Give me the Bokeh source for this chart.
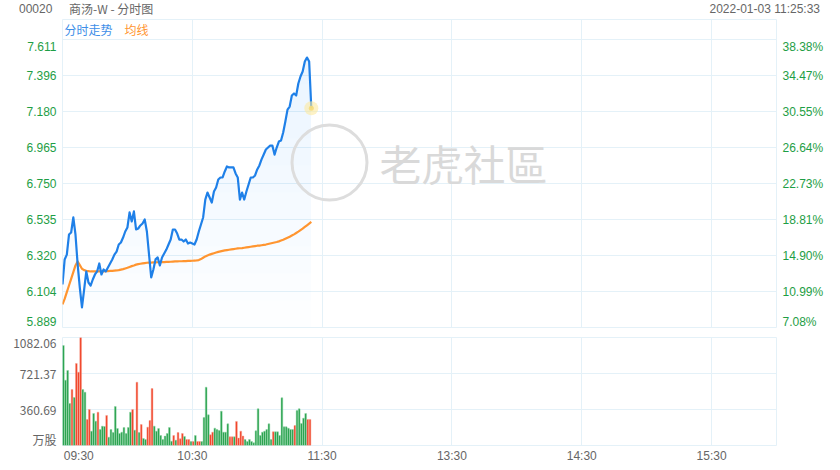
import numpy as np
from bokeh.plotting import figure
from bokeh.models import Range1d, LinearAxis, FixedTicker, Label, ColumnDataSource, Div
from bokeh.layouts import column
from bokeh.embed import file_html
from bokeh.resources import INLINE

# ---------------- data ----------------
stock_code = "00020"
stock_title = "商汤-W - 分时图"
timestamp = "2022-01-03 11:25:33"
legend_price = "分时走势"
legend_avg = "均线"
watermark = "老虎社區"

prev_close = 5.50
price_min, price_max = 5.889, 7.611
price_tick_labels = ["5.889", "6.104", "6.320", "6.535", "6.750", "6.965", "7.180", "7.396", "7.611"]
pct_tick_labels = ["7.08%", "10.99%", "14.90%", "18.81%", "22.73%", "26.64%", "30.55%", "34.47%", "38.38%"]

vol_max = 1082.06
vol_ticks = [0, 360.69, 721.37, 1082.06]
vol_tick_labels = ["万股", "360.69", "721.37", "1082.06"]

session_minutes = 330  # 09:30-12:00 + 13:00-16:00
time_labels = ["09:30", "10:30", "11:30", "13:30", "14:30", "15:30"]
time_label_pos = [7.5, 60, 120, 180, 240, 300]
time_grid = [0, 60, 120, 180, 240, 300, 330]

price = [
    6.146, 6.296, 6.325, 6.445, 6.457, 6.547, 6.445, 6.266, 6.128, 6.009,
    6.116, 6.224, 6.158, 6.140, 6.176, 6.206, 6.224, 6.272, 6.206, 6.236,
    6.224, 6.248, 6.272, 6.296, 6.325, 6.343, 6.385, 6.397, 6.427, 6.463,
    6.487, 6.577, 6.523, 6.583, 6.475, 6.481, 6.499, 6.511, 6.535, 6.463,
    6.325, 6.188, 6.236, 6.296, 6.308, 6.260, 6.308, 6.331, 6.355, 6.385,
    6.415, 6.475, 6.475, 6.451, 6.415, 6.415, 6.403, 6.415, 6.391, 6.397,
    6.391, 6.385, 6.415, 6.463, 6.505, 6.547, 6.654, 6.696, 6.666, 6.636,
    6.702, 6.726, 6.774, 6.786, 6.786, 6.822, 6.852, 6.846, 6.846, 6.846,
    6.810, 6.786, 6.654, 6.696, 6.654, 6.702, 6.744, 6.786, 6.786, 6.798,
    6.834, 6.858, 6.894, 6.923, 6.953, 6.965, 6.977, 6.977, 6.923, 6.965,
    7.001, 7.007, 7.055, 7.121, 7.192, 7.210, 7.276, 7.288, 7.276, 7.348,
    7.390, 7.420, 7.479, 7.503, 7.479, 7.200,
]

avg_price = [
    6.027, 6.060, 6.100, 6.140, 6.180, 6.220, 6.260, 6.284, 6.262, 6.240,
    6.232, 6.228, 6.226, 6.224, 6.224, 6.224, 6.224, 6.224, 6.224, 6.225,
    6.226, 6.226, 6.227, 6.228, 6.229, 6.230, 6.232, 6.235, 6.238, 6.242,
    6.246, 6.251, 6.256, 6.260, 6.265, 6.268, 6.270, 6.272, 6.274, 6.276,
    6.277, 6.277, 6.278, 6.278, 6.279, 6.279, 6.280, 6.280, 6.281, 6.281,
    6.282, 6.283, 6.284, 6.284, 6.285, 6.285, 6.286, 6.286, 6.287, 6.287,
    6.288, 6.289, 6.290, 6.292, 6.298, 6.306, 6.314, 6.320, 6.325, 6.329,
    6.333, 6.337, 6.341, 6.344, 6.347, 6.350, 6.352, 6.354, 6.356, 6.358,
    6.360, 6.362, 6.363, 6.364, 6.366, 6.368, 6.370, 6.372, 6.374, 6.376,
    6.378, 6.379, 6.381, 6.383, 6.385, 6.388, 6.391, 6.394, 6.397, 6.400,
    6.404, 6.409, 6.414, 6.420, 6.426, 6.432, 6.439, 6.446, 6.454, 6.462,
    6.471, 6.480, 6.490, 6.500, 6.510, 6.520,
]

volume = [
    1002, 654, 751, 421, 561, 481, 822, 735, 1082, 561,
    534, 260, 361, 143, 321, 244, 334, 160, 194, 190,
    301, 83, 160, 130, 391, 170, 120, 134, 180, 120,
    180, 334, 361, 154, 634, 130, 210, 70, 60, 184,
    250, 571, 194, 144, 170, 100, 60, 94, 120, 180,
    43, 100, 53, 130, 67, 120, 90, 60, 60, 40,
    40, 100, 40, 40, 40, 281, 584, 307, 107, 134,
    174, 160, 150, 344, 134, 134, 217, 87, 87, 87,
    241, 74, 144, 94, 60, 40, 60, 40, 27, 147,
    368, 100, 134, 144, 160, 217, 60, 137, 137, 137,
    100, 478, 187, 187, 174, 160, 160, 200, 351, 368,
    220, 274, 321, 261, 261,
]
# 1 = red bar, 0 = green bar
vol_up = [
    0, 0, 0, 0, 1, 0, 1, 1, 1, 0,
    0, 1, 1, 0, 0, 0, 1, 0, 0, 0,
    1, 0, 0, 0, 0, 0, 0, 0, 0, 0,
    0, 0, 1, 0, 1, 0, 1, 0, 0, 1,
    1, 1, 0, 0, 0, 0, 0, 0, 0, 0,
    0, 1, 0, 1, 1, 1, 0, 1, 1, 0,
    1, 0, 1, 1, 0, 0, 0, 0, 1, 1,
    0, 0, 0, 0, 0, 0, 0, 1, 1, 0,
    1, 1, 1, 1, 0, 0, 0, 0, 0, 0,
    0, 0, 0, 0, 0, 0, 0, 1, 0, 0,
    0, 0, 0, 0, 0, 0, 0, 1, 0, 0,
    0, 0, 0, 1, 1,
]

# ---------------- styles / layout ----------------
W = 832
LEFT, RIGHT = 62, 56
FRAME_W = W - LEFT - RIGHT          # 714 px
PRICE_PX = 288                      # px from price_min to price_max
HEAD_PX = 20                        # extra frame space above price_max (legend row)
VOL_PX = 108
GRID = "#e4f1f8"
GREEN_TXT = "#1e9e45"
GRAY_TXT = "#666666"
BLUE = "#1f80e8"
ORANGE = "#ff9530"
RED_BAR = "#f03a1e"
GREEN_BAR = "#1e9c44"
FONT = "Liberation Sans"
CJK = "Noto Sans CJK SC"

dp = (price_max - price_min) / PRICE_PX
dv = vol_max / VOL_PX
x_range = Range1d(0, session_minutes)
price_ticks = list(np.linspace(price_min, price_max, len(price_tick_labels)))
# label anchor positions: end labels pulled inside, as in the original
price_label_pos = list(price_ticks)
price_label_pos[0] = price_min + 6 * dp
price_label_pos[-1] = price_max - 7 * dp
vol_label_pos = list(vol_ticks)
vol_label_pos[0] = 6 * dv
vol_label_pos[-1] = vol_max - 5 * dv


def style_axis(ax, color, standoff, font=FONT):
    ax.axis_line_color = None
    ax.major_tick_line_color = None
    ax.minor_tick_line_color = None
    ax.major_tick_out = 0
    ax.major_tick_in = 0
    ax.minor_tick_out = 0
    ax.minor_tick_in = 0
    ax.major_label_text_color = color
    ax.major_label_text_font = font
    ax.major_label_text_font_size = "12px"
    ax.major_label_standoff = standoff


# ---------------- header ----------------
header_html = (
    f'<div style="position:relative;width:{W}px;height:19px;font-size:12px;'
    f'color:{GRAY_TXT};font-family:\'{CJK}\';line-height:14px;white-space:nowrap;">'
    f'<span style="position:absolute;left:19px;top:2px;font-family:\'{FONT}\';">{stock_code}</span>'
    f'<span style="position:absolute;left:69px;top:2px;">{stock_title}</span>'
    f'<span style="position:absolute;right:12px;top:2px;font-family:\'{FONT}\';">{timestamp}</span>'
    f'</div>'
)
h = Div(text=header_html, width=W, height=19, margin=0)

# ---------------- price figure ----------------
p = figure(width=W, height=PRICE_PX + HEAD_PX + 3, x_range=x_range,
           y_range=Range1d(price_min, price_max + HEAD_PX * dp),
           output_backend="svg", toolbar_location=None,
           x_axis_location=None, y_axis_location="left",
           min_border_left=LEFT, min_border_right=RIGHT, min_border_top=0, min_border_bottom=3)
p.background_fill_color = "white"
p.border_fill_color = "white"
p.outline_line_color = GRID
p.xgrid.ticker = FixedTicker(ticks=time_grid)
p.ygrid.ticker = FixedTicker(ticks=price_ticks)
p.xgrid.grid_line_color = GRID
p.ygrid.grid_line_color = GRID

ax_l = p.yaxis[0]
ax_l.ticker = FixedTicker(ticks=price_label_pos)
ax_l.major_label_overrides = {t: s for t, s in zip(price_label_pos, price_tick_labels)}
style_axis(ax_l, GREEN_TXT, 6)

ax_r = LinearAxis(ticker=FixedTicker(ticks=price_label_pos),
                  major_label_overrides={t: s for t, s in zip(price_label_pos, pct_tick_labels)})
style_axis(ax_r, GREEN_TXT, 6)
p.add_layout(ax_r, "right")

n = len(price)
minutes = np.arange(n)
price_arr = np.array(price)

# gradient-like area fill under the price line
levels = np.linspace(price_min, price_arr.max(), 11)[:-1]
for lv in levels:
    p.varea(x=minutes, y1=np.full(n, lv), y2=np.maximum(price_arr, lv),
            fill_color="#2ea6ee", fill_alpha=0.013)

# watermark (positioned in frame pixels)
def frame_px_to_data(px, py_from_top):
    return (px / FRAME_W * session_minutes,
            price_max + HEAD_PX * dp - py_from_top * dp)

wx, wy = frame_px_to_data(267, 143)
p.scatter(x=[wx], y=[wy], size=75, fill_color=None, line_color="#dddddd", line_width=3)
p.add_layout(Label(x=317, y=165, x_units="screen", y_units="screen", text=watermark,
                   text_font="Noto Sans CJK TC", text_font_size="42px",
                   text_color="#d9d9d9", text_baseline="middle", text_align="left"))

p.line(minutes, avg_price, line_color=ORANGE, line_width=2.2, line_join="round")
p.line(minutes, price, line_color=BLUE, line_width=2.2, line_join="round")

p.scatter(x=[minutes[-1]], y=[price[-1]], size=14, fill_color="#fbe9a0", fill_alpha=0.6, line_color=None)
p.scatter(x=[minutes[-1]], y=[price[-1]], size=5, fill_color="#f5dc7a", fill_alpha=0.9, line_color=None)


def ftext(fig, text, x, y, color):
    fig.add_layout(Label(x=x, y=y, x_units="screen", y_units="screen", text=text,
                         text_font=CJK, text_font_size="12px", text_color=color,
                         text_align="left", text_baseline="middle"))


# legend row inside the top band of the frame
ftext(p, legend_price, 2, PRICE_PX + HEAD_PX - 10, "#3d8ee8")
ftext(p, legend_avg, 62, PRICE_PX + HEAD_PX - 10, ORANGE)

# ---------------- volume figure ----------------
v = figure(width=W, height=VOL_PX + 7 + 20, x_range=x_range, y_range=Range1d(0, vol_max),
           output_backend="svg", toolbar_location=None,
           min_border_left=LEFT, min_border_right=RIGHT, min_border_top=7, min_border_bottom=20)
v.background_fill_color = "white"
v.border_fill_color = "white"
v.outline_line_color = GRID
v.xgrid.ticker = FixedTicker(ticks=time_grid)
v.ygrid.ticker = FixedTicker(ticks=vol_ticks[1:])
v.xgrid.grid_line_color = GRID
v.ygrid.grid_line_color = GRID

vax = v.yaxis[0]
vax.ticker = FixedTicker(ticks=vol_label_pos)
vax.major_label_overrides = {t: s for t, s in zip(vol_label_pos, vol_tick_labels)}
style_axis(vax, GRAY_TXT, 6, font=CJK)

xax = v.xaxis[0]
xax.ticker = FixedTicker(ticks=time_label_pos)
xax.major_label_overrides = {t: s for t, s in zip(time_label_pos, time_labels)}
style_axis(xax, GRAY_TXT, 3)

vol_src = ColumnDataSource(dict(
    x=np.arange(len(volume)) + 0.4,
    top=volume,
    fill=[RED_BAR if u else GREEN_BAR for u in vol_up],
    edge=["#f7a595" if u else "#93d6a8" for u in vol_up],
))
v.vbar(x="x", top="top", width=0.8, bottom=0, source=vol_src,
       fill_color="fill", line_color="edge", line_width=0.5)

layout = column(h, p, v, spacing=0)
open("out.html", "w").write(file_html(layout, INLINE))
